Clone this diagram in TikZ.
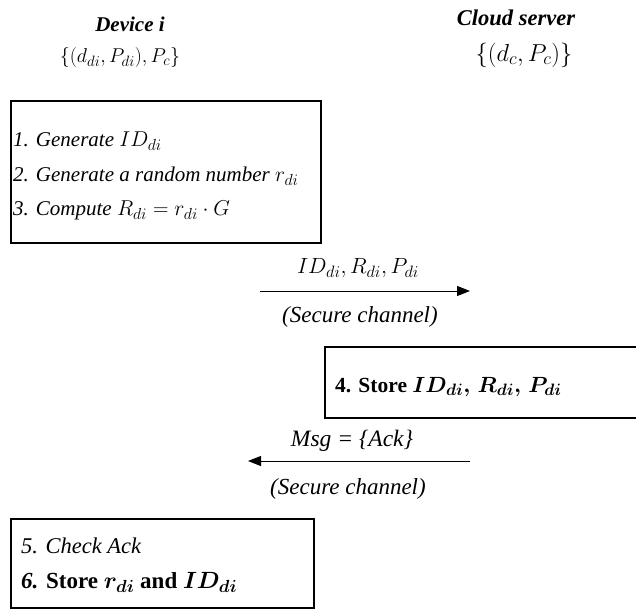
\RequirePackage{fix-cm}
\documentclass[tikz,border=0pt]{standalone}
\usepackage{bm}
\usepackage{fontspec}
\setmainfont{Liberation Serif}
\DeclareMathSizes{19.5}{20}{15}{11}
\DeclareMathSizes{21}{21.5}{16}{11}
\DeclareMathSizes{21.5}{22}{16.5}{11}
\DeclareMathSizes{22.5}{23}{17}{12}
\DeclareMathSizes{23}{23.5}{17.5}{12}
\DeclareMathSizes{24}{24.5}{18}{12}
\usetikzlibrary{arrows.meta}
\newcommand{\fsz}[1]{\fontsize{#1}{1.2\dimexpr#1pt\relax}\selectfont}
\begin{document}
\begin{tikzpicture}[x=1pt,y=-1pt,
  txt/.style={font=\fsz{21}\itshape, inner sep=0pt},
  head/.style={font=\fsz{21}\bfseries\itshape, inner sep=0pt},
  setx/.style={font=\fsz{19.5}, inner sep=0pt},
  bld/.style={font=\fsz{21.5}\bfseries, inner sep=0pt},
  box/.style={draw, line width=1.8pt, inner sep=0pt, anchor=north west},
  msg/.style={line width=1pt, -{Triangle[length=13pt,width=10pt]}}]
\useasboundingbox (0,0) rectangle (636,609);
\clip (0,0) rectangle (636,609);

% headers
\node[head] (dev) at (130,24) {Device i};
\node[setx] (devk) at (120,58) {$\{(d_{di},P_{di}),P_c\}$};
\node[head, font=\fsz{22.5}\bfseries\itshape] (cs) at (516,18) {Cloud server};
\node[setx, font=\fsz{24}] (csk) at (524,55) {$\{(d_c,P_c)\}$};

% box 1
\node[box, minimum width=310, minimum height=142] (b1) at (10,100) {};
\node[txt, anchor=base west] (s1) at (13,147) {1. Generate $ID_{di}$};
\node[txt, anchor=base west] (s2) at (13,182) {2. Generate a random number $r_{di}$};
\node[txt, anchor=base west] (s3) at (13,216) {3. Compute $R_{di}=r_{di}\cdot G$};

% message 1
\coordinate (m1a) at (260,291);
\coordinate (m1b) at (470,291);
\draw[msg] (m1a) -- (m1b);
\node[txt, font=\fsz{21.5}\itshape] (l1) at (358,268) {$ID_{di},R_{di},P_{di}$};
\node[txt, font=\fsz{23}\itshape] (c1) at (360,317) {(Secure channel)};

% box 2
\node[box, minimum width=330, minimum height=71] (b2) at (324,346) {};
\node[bld, anchor=base west] (s4) at (335,392) {4. Store $\bm{ID_{di},\,R_{di},\,P_{di}}$};

% message 2
\coordinate (m2a) at (470,461);
\coordinate (m2b) at (248,461);
\draw[msg] (m2a) -- (m2b);
\node[txt, font=\fsz{23.5}\itshape] (l2) at (352,441) {Msg = \{Ack\}};
\node[txt, font=\fsz{23}\itshape] (c2) at (348,489) {(Secure channel)};

% box 3
\node[box, minimum width=303, minimum height=89] (b3) at (10,518) {};
\node[txt, font=\fsz{22.5}\itshape, anchor=base west] (s5) at (21,553) {5. Check Ack};
\node[bld, font=\fsz{23}\bfseries, anchor=base west] (s6) at (21,588) {\textit{6.} Store $\bm{r_{di}}$ and $\bm{ID_{di}}$};
\end{tikzpicture}
\end{document}
